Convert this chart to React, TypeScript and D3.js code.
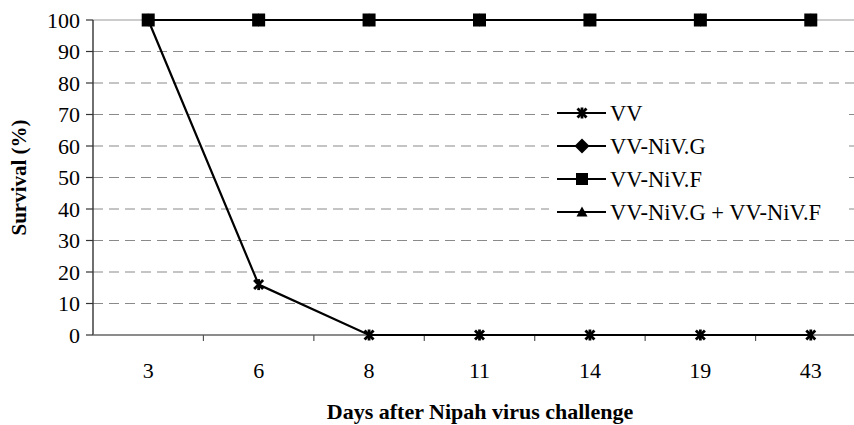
import React from 'react';
import * as d3 from 'd3';

const days = ['3', '6', '8', '11', '14', '19', '43'];
const yTicks = [0, 10, 20, 30, 40, 50, 60, 70, 80, 90, 100];

const vv = [100, 16, 0, 0, 0, 0, 0];
const vvG = [100, 100, 100, 100, 100, 100, 100];
const vvF = [100, 100, 100, 100, 100, 100, 100];
const vvGF = [100, 100, 100, 100, 100, 100, 100];

type Shape = 'star' | 'diamond' | 'square' | 'triangle';

const seriesList: { name: string; values: number[]; shape: Shape }[] = [
  { name: 'VV', values: vv, shape: 'star' },
  { name: 'VV-NiV.G', values: vvG, shape: 'diamond' },
  { name: 'VV-NiV.G + VV-NiV.F', values: vvGF, shape: 'triangle' },
  { name: 'VV-NiV.F', values: vvF, shape: 'square' },
];
const legendOrder = ['VV', 'VV-NiV.G', 'VV-NiV.F', 'VV-NiV.G + VV-NiV.F'];

const W = 854;
const H = 425;
const margin = { left: 93, top: 20, right: -12, bottom: 90 };
const FONT = "'Times New Roman', 'Liberation Serif', Tinos, Times, 'DejaVu Serif', 'Noto Serif', serif";
const txt: React.CSSProperties = { fontFamily: FONT };

const Marker: React.FC<{ shape: Shape; x: number; y: number; legend?: boolean }> = ({ shape, x, y, legend }) => {
  if (shape === 'star') {
    const s = 4.5;
    return (
      <g stroke="#000" strokeWidth={2.8}>
        <line x1={x - s} y1={y - s} x2={x + s} y2={y + s} />
        <line x1={x - s} y1={y + s} x2={x + s} y2={y - s} />
        <line x1={x} y1={y - s - 1} x2={x} y2={y + s + 1} />
      </g>
    );
  }
  if (shape === 'diamond') {
    const s = legend ? 7.5 : 6.5;
    return <path d={`M${x},${y - s}L${x + s},${y}L${x},${y + s}L${x - s},${y}Z`} fill="#000" />;
  }
  if (shape === 'square') {
    const s = legend ? 6 : 6.5;
    return <rect x={x - s} y={y - s} width={s * 2} height={s * 2} fill="#000" />;
  }
  const s = 5.5;
  return <path d={`M${x},${y - s}L${x + s},${y + s - 1}L${x - s},${y + s - 1}Z`} fill="#000" />;
};

export default function App() {
  const x = d3.scaleBand<string>().domain(days).range([margin.left, W - margin.right]).padding(0);
  const y = d3.scaleLinear().domain([0, 100]).range([H - margin.bottom, margin.top]);
  const cx = (d: string) => (x(d) as number) + x.bandwidth() / 2;
  const line = d3.line<number>()
    .x((_, i) => cx(days[i]))
    .y(v => y(v));

  const y0 = y(0);
  const legendRows = [113, 146, 179, 212];

  return (
    <svg width={W} height={H} style={{ position: 'absolute', left: 0, top: 0, background: '#fff' }}>
      {/* gridlines */}
      {yTicks.filter(t => t > 0 && t < 100).map(t => (
        <line key={t} x1={margin.left} x2={W} y1={y(t)} y2={y(t)} stroke="#8a8a8a" strokeWidth={1.2} strokeDasharray="10,6" />
      ))}
      <line x1={margin.left} x2={W} y1={y(100)} y2={y(100)} stroke="#999" strokeWidth={1.2} />

      {/* axes */}
      <line x1={margin.left} x2={margin.left} y1={y(100)} y2={y0} stroke="#333" strokeWidth={1.4} />
      <line x1={margin.left} x2={W} y1={y0} y2={y0} stroke="#666" strokeWidth={1.4} />
      {yTicks.map(t => (
        <g key={t}>
          <line x1={margin.left - 7} x2={margin.left} y1={y(t)} y2={y(t)} stroke="#333" strokeWidth={1.2} />
          <text x={80} y={y(t)} dy="0.35em" textAnchor="end" fontSize={22} style={txt}>{t}</text>
        </g>
      ))}
      {days.map((d, i) => (
        <g key={d}>
          {i > 0 && <line x1={x(d)} x2={x(d)} y1={y0} y2={y0 + 6} stroke="#555" strokeWidth={1.2} />}
          <text x={cx(d)} y={378} textAnchor="middle" fontSize={22} style={txt}>{d}</text>
        </g>
      ))}

      {/* series */}
      {seriesList.map(s => (
        <g key={s.name}>
          <path d={line(s.values) || ''} fill="none" stroke="#000" strokeWidth={2.2} />
          {s.values.map((v, i) => (
            <Marker key={i} shape={s.shape} x={cx(days[i])} y={y(v)} />
          ))}
        </g>
      ))}

      {/* legend */}
      <rect x={549} y={98} width={300} height={128} fill="#fff" />
      {legendOrder.map((name, i) => {
        const s = seriesList.find(d => d.name === name)!;
        const ly = legendRows[i];
        return (
          <g key={name}>
            <line x1={557} x2={606} y1={ly} y2={ly} stroke="#000" strokeWidth={2.2} />
            <Marker shape={s.shape} x={582} y={ly} legend />
            <text x={610} y={ly} dy="0.35em" fontSize={22.5} style={txt}>{name}</text>
          </g>
        );
      })}

      {/* titles */}
      <text x={480} y={419} textAnchor="middle" fontWeight="bold" fontSize={22} style={txt}>Days after Nipah virus challenge</text>
      <text transform={`translate(26,${(y(100) + y0) / 2}) rotate(-90)`} textAnchor="middle" fontWeight="bold" fontSize={21} style={txt}>Survival (%)</text>
    </svg>
  );
}
